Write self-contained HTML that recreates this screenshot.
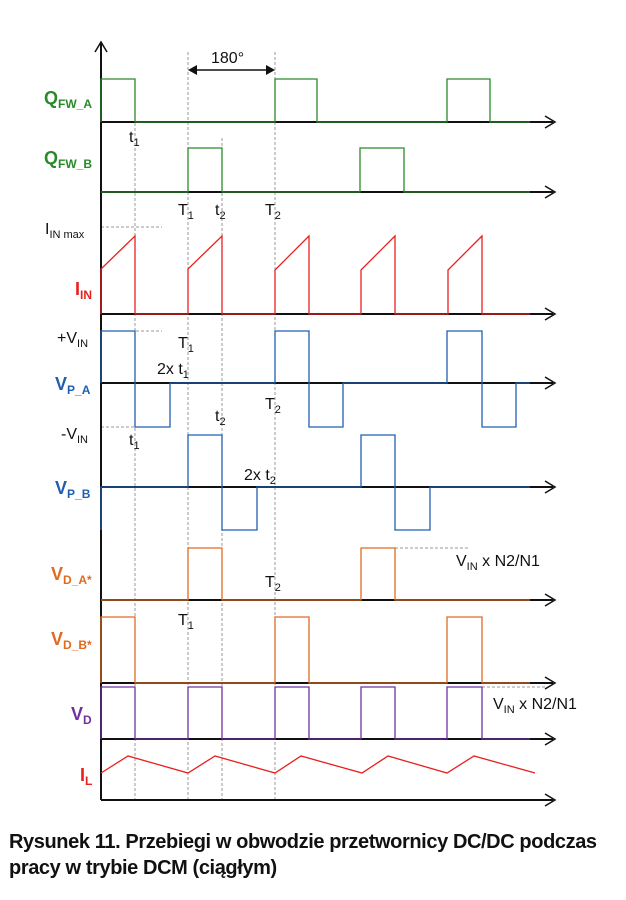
<!DOCTYPE html>
<html><head><meta charset="utf-8"><style>
body{margin:0;background:#fff;width:626px;height:900px;overflow:hidden}
svg{position:absolute;left:0;top:0}
.cap{position:absolute;left:9px;top:829px;width:620px;font-family:"Liberation Sans Narrow","Liberation Sans",sans-serif;font-weight:bold;font-size:20px;line-height:26px;color:#111;letter-spacing:-0.4px}
</style></head><body>
<svg width="626" height="900" viewBox="0 0 626 900" font-family="Liberation Sans, sans-serif">
<g stroke="#999" stroke-width="1" stroke-dasharray="3,2" fill="none">
<line x1="135" y1="118" x2="135" y2="800"/>
<line x1="188" y1="52" x2="188" y2="800"/>
<line x1="222" y1="138" x2="222" y2="800"/>
<line x1="275" y1="52" x2="275" y2="800"/>
<line x1="101" y1="227" x2="162" y2="227"/>
<line x1="101" y1="331" x2="162" y2="331"/>
<line x1="101" y1="427" x2="135" y2="427"/>
<line x1="395" y1="548" x2="470" y2="548"/>
<line x1="482" y1="687" x2="545" y2="687"/>
</g>
<g stroke="#111" stroke-width="2" fill="none">
<line x1="101" y1="42" x2="101" y2="800"/>
<polyline points="95,52 101,42 107,52" stroke-width="1.5"/>
<line x1="101" y1="122" x2="553" y2="122"/><line x1="101" y1="192" x2="553" y2="192"/>
<line x1="101" y1="314" x2="553" y2="314"/><line x1="101" y1="383" x2="553" y2="383"/>
<line x1="101" y1="487" x2="553" y2="487"/><line x1="101" y1="600" x2="553" y2="600"/>
<line x1="101" y1="683" x2="553" y2="683"/><line x1="101" y1="739" x2="553" y2="739"/>
<line x1="101" y1="800" x2="553" y2="800"/>
</g>
<g stroke="#111" stroke-width="1.5" fill="none">
<polyline points="545,116 555,122 545,128"/><polyline points="545,186 555,192 545,198"/>
<polyline points="545,308 555,314 545,320"/><polyline points="545,377 555,383 545,389"/>
<polyline points="545,481 555,487 545,493"/><polyline points="545,594 555,600 545,606"/>
<polyline points="545,677 555,683 545,689"/><polyline points="545,733 555,739 545,745"/>
<polyline points="545,794 555,800 545,806"/>
<line x1="190" y1="70" x2="273" y2="70"/>
</g>
<polygon points="188,70 197,65 197,75" fill="#111"/><polygon points="275,70 266,65 266,75" fill="#111"/>
<g fill="none" stroke-width="1.3">
<polyline stroke="#2a8a2a" points="101,122 101,79 135,79 135,122 275,122 275,79 317,79 317,122 447,122 447,79 490,79 490,122 530,122"/>
<polyline stroke="#2a8a2a" points="101,192 188,192 188,148 222,148 222,192 360,192 360,148 404,148 404,192 530,192"/>
<polyline stroke="#e8201e" points="101,314 101,269 135,236 135,314 188,314 188,269 222,236 222,314 275,314 275,270 309,236 309,314 361,314 361,270 395,236 395,314 448,314 448,270 482,236 482,314 530,314"/>
<polyline stroke="#1f5fb0" points="101,383 101,331 135,331 135,427 170,427 170,383 275,383 275,331 309,331 309,427 343,427 343,383 447,383 447,331 482,331 482,427 516,427 516,383 530,383"/>
<polyline stroke="#1f5fb0" points="101,530 101,487 188,487 188,435 222,435 222,530 257,530 257,487 361,487 361,435 395,435 395,530 430,530 430,487 530,487"/>
<polyline stroke="#e06a20" points="101,600 188,600 188,548 222,548 222,600 361,600 361,548 395,548 395,600 530,600"/>
<polyline stroke="#e06a20" points="101,683 101,617 135,617 135,683 275,683 275,617 309,617 309,683 447,683 447,617 482,617 482,683 530,683"/>
<polyline stroke="#7030a0" points="101,739 101,687 135,687 135,739 188,739 188,687 222,687 222,739 275,739 275,687 309,687 309,739 361,739 361,687 395,687 395,739 447,739 447,687 482,687 482,739 530,739"/>
<polyline stroke="#e8201e" points="101,773 128,756 188,773 215,756 275,773 301,756 362,773 388,756 447,773 474,756 535,773"/>
</g>
<g font-weight="bold" font-size="18">
<text x="44" y="104" fill="#2a8a2a">Q<tspan font-size="12" dy="4">FW_A</tspan></text>
<text x="44" y="164" fill="#2a8a2a">Q<tspan font-size="12" dy="4">FW_B</tspan></text>
<text x="75" y="295" fill="#e8201e">I<tspan font-size="12" dy="4">IN</tspan></text>
<text x="55" y="390" fill="#1f5fb0">V<tspan font-size="12" dy="4">P_A</tspan></text>
<text x="55" y="494" fill="#1f5fb0">V<tspan font-size="12" dy="4">P_B</tspan></text>
<text x="51" y="580" fill="#e06a20">V<tspan font-size="12" dy="4">D_A*</tspan></text>
<text x="51" y="645" fill="#e06a20">V<tspan font-size="12" dy="4">D_B*</tspan></text>
<text x="71" y="720" fill="#7030a0">V<tspan font-size="12" dy="4">D</tspan></text>
<text x="80" y="781" fill="#e8201e">I<tspan font-size="12" dy="4">L</tspan></text>
</g>
<g font-size="16" fill="#111">
<text x="211" y="63">180°</text>
<text x="129" y="142">t<tspan font-size="11" dy="4">1</tspan></text>
<text x="178" y="215">T<tspan font-size="11" dy="4">1</tspan></text>
<text x="215" y="215">t<tspan font-size="11" dy="4">2</tspan></text>
<text x="265" y="215">T<tspan font-size="11" dy="4">2</tspan></text>
<text x="45" y="234">I<tspan font-size="11" dy="4">IN  max</tspan></text>
<text x="57" y="343">+V<tspan font-size="11" dy="4">IN</tspan></text>
<text x="178" y="348">T<tspan font-size="11" dy="4">1</tspan></text>
<text x="157" y="374">2x t<tspan font-size="11" dy="4">1</tspan></text>
<text x="265" y="409">T<tspan font-size="11" dy="4">2</tspan></text>
<text x="215" y="421">t<tspan font-size="11" dy="4">2</tspan></text>
<text x="61" y="439">-V<tspan font-size="11" dy="4">IN</tspan></text>
<text x="129" y="445">t<tspan font-size="11" dy="4">1</tspan></text>
<text x="244" y="480">2x t<tspan font-size="11" dy="4">2</tspan></text>
<text x="456" y="566">V<tspan font-size="11" dy="4">IN</tspan><tspan dy="-4"> x N2/N1</tspan></text>
<text x="265" y="587">T<tspan font-size="11" dy="4">2</tspan></text>
<text x="178" y="625">T<tspan font-size="11" dy="4">1</tspan></text>
<text x="493" y="709">V<tspan font-size="11" dy="4">IN</tspan><tspan dy="-4"> x N2/N1</tspan></text>
</g>
</svg>
<div class="cap">Rysunek 11. Przebiegi w obwodzie przetwornicy DC/DC podczas pracy w trybie DCM (ciągłym)</div>
</body></html>
